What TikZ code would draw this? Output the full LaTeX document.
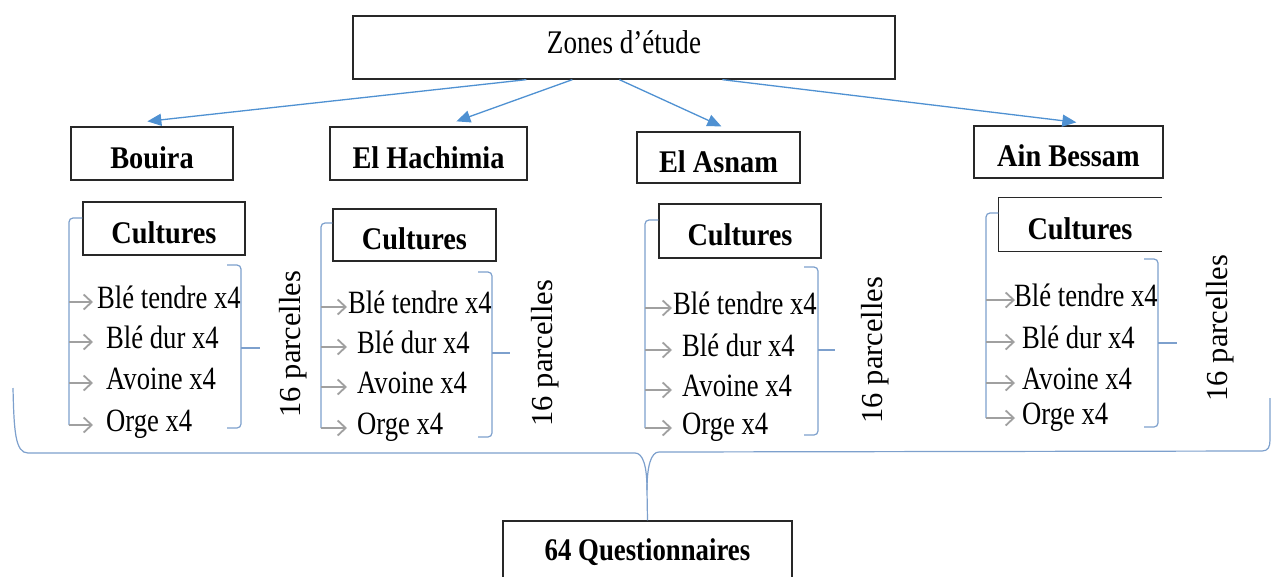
\documentclass[tikz,border=0pt]{standalone}
\usepackage{fontspec}
\setmainfont{Liberation Serif}[FakeStretch=0.82]
\newfontfamily\bfam{Liberation Serif}[FakeStretch=0.9]
\newfontfamily\qfam{Liberation Serif}[FakeStretch=0.85]
\newfontfamily\rfam{Liberation Serif}
\usetikzlibrary{arrows.meta}
\definecolor{arrowblue}{RGB}{79,145,210}
\definecolor{brblue}{RGB}{125,160,205}
\definecolor{garr}{RGB}{160,160,160}
\definecolor{boxgray}{RGB}{40,40,40}
\tikzset{
  zbox/.style={draw=boxgray, line width=1.3pt, inner sep=0pt, font=\fontsize{33}{36}\selectfont},
  bbox/.style={draw=boxgray, line width=1.3pt, inner sep=0pt, text height=29pt, text depth=0pt, font=\bfam\bfseries\fontsize{31.5}{34}\selectfont},
  item/.style={anchor=base west, inner sep=0pt, font=\fontsize{32.5}{35}\selectfont},
  rot/.style={rotate=90, inner sep=0pt, font=\rfam\fontsize{30.5}{33}\selectfont},
  conn/.style={draw=arrowblue, line width=1.3pt, -{Triangle[length=14pt,width=12pt]}},
  garrow/.style={draw=garr, line width=1.8pt, -{Straight Barb[length=8pt,width=15pt,line width=1.8pt]}},
  brk/.style={draw=brblue, line width=1.2pt, rounded corners=4pt},
  brace/.style={draw=brblue, line width=1.2pt}
}
\begin{document}
\begin{tikzpicture}[x=1pt,y=-1pt]
\useasboundingbox (0,0) rectangle (1272,576);
\fill[white] (0,0) rectangle (1272,576);

% top box
\node[zbox, minimum width=542pt, minimum height=63pt, text height=23pt, text depth=12pt] (zones) at (624,47.5) {Zones d’étude};

% zone boxes
\node[bbox, minimum width=162pt, minimum height=53pt] (bouira) at (152,153.5) {Bouira};
\node[bbox, minimum width=197pt, minimum height=53pt] (hach) at (428.5,153.5) {El Hachimia};
\node[bbox, minimum width=163pt, minimum height=51pt] (asnam) at (718.5,157.5) {El Asnam};
\node[bbox, minimum width=189pt, minimum height=52pt] (ain) at (1068.5,152) {Ain Bessam};

% arrows
\draw[conn] ([xshift=174pt]zones.south west) -- ([xshift=77pt,yshift=5pt]bouira.north west);
\draw[conn] ([xshift=220pt]zones.south west) -- ([xshift=127pt,yshift=5pt]hach.north west);
\draw[conn] ([xshift=267pt]zones.south west) -- ([xshift=85pt,yshift=5pt]asnam.north west);
\draw[conn] ([xshift=370pt]zones.south west) -- ([xshift=103pt,yshift=3pt]ain.north west);

% cultures boxes
\node[bbox, minimum width=162pt, minimum height=53pt] (c1) at (164,228.5) {Cultures};
\node[bbox, minimum width=163pt, minimum height=52pt] (c2) at (414.5,235) {Cultures};
\node[bbox, minimum width=162pt, minimum height=54pt] (c3) at (740,231) {Cultures};
\node[bbox, draw=none, minimum width=162pt, minimum height=53pt] (c4) at (1080,224.5) {Cultures};
\draw[boxgray, line width=1.3pt] (c4.north east) -- (c4.north west) -- (c4.south west) -- (c4.south east);

% groups
\foreach \g/\vx/\vt/\ya/\yb/\yc/\yd/\tip/\ta/\tb/\bx/\bt/\bb/\bm/\bs/\rx/\ry in {
  1/69/218/302/342/383/425/93/97/106/241/265/428/348/260/293/344,
  2/321/223/307/347/387/428/347/348/357/492/272/437/353/510/545/353,
  3/645/220/308/350/390/428/672/673/682/818/267/435/350/835/875/350,
  4/986/213/300/342/383/418/1015/1014/1022/1158/259/427/343/1177/1220/328}
{
  \coordinate (v\g t) at (\vx,\vt);
  \coordinate (v\g a) at (\vx,\ya);
  \coordinate (v\g b) at (\vx,\yb);
  \coordinate (v\g c) at (\vx,\yc);
  \coordinate (v\g d) at (\vx,\yd);
  \coordinate (p\g a) at (\tip,\ya);
  \coordinate (p\g b) at (\tip,\yb);
  \coordinate (p\g c) at (\tip,\yc);
  \coordinate (p\g d) at (\tip,\yd);
  \node[item] (i\g a) at (\ta,{\ya+6}) {Blé tendre x4};
  \node[item] (i\g b) at (\tb,{\yb+6}) {Blé dur x4};
  \node[item] (i\g c) at (\tb,{\yc+6}) {Avoine x4};
  \node[item] (i\g d) at (\tb,{\yd+6}) {Orge x4};
  \draw[brk] (c\g.west |- v\g t) -- (v\g t) -- (v\g d);
  \draw[garrow] (v\g a) -- (p\g a);
  \draw[garrow] (v\g b) -- (p\g b);
  \draw[garrow] (v\g c) -- (p\g c);
  \draw[garrow] (v\g d) -- (p\g d);
  \draw[brk] ({\bx-14},\bt) -- (\bx,\bt) -- (\bx,\bb) -- ({\bx-14},\bb);
  \draw[brace] (\bx,\bm) -- (\bs,\bm);
  \node[rot] (r\g) at (\rx,\ry) {16 parcelles};
}

% bottom box
\node[draw=boxgray, line width=1.3pt, inner sep=0pt, minimum width=289pt, minimum height=62pt,
      font=\qfam\bfseries\fontsize{31.5}{34}\selectfont] (q) at (647.5,552) {64 Questionnaires};

% big brace
\coordinate (bl) at (13,388);
\coordinate (br) at (1270,398);
\draw[brace] (bl) .. controls (14,430) and (15,453) .. (28,453) -- (635,453)
   .. controls (643,453) and (647,466) .. (647,490) -- (q.north);
\draw[brace] (br) -- (1270,440) .. controls (1270,447) and (1268,451) .. (1262,451) -- (659,452)
   .. controls (651,452) and (647,466) .. (647,490);
\end{tikzpicture}
\end{document}
